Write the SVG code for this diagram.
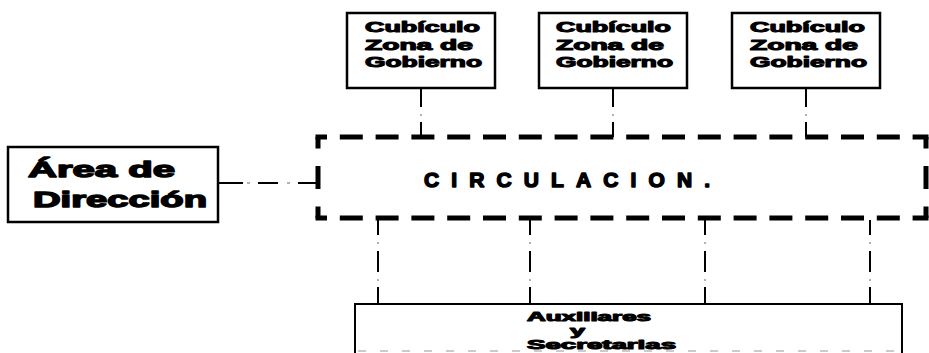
<svg xmlns="http://www.w3.org/2000/svg" width="929" height="353" viewBox="0 0 929 353">
<style>
.box{fill:#fff;stroke:#000;stroke-width:2.5}
.t{font-family:"Liberation Sans",Arial,sans-serif;font-weight:bold;fill:#000;stroke:#000;stroke-linejoin:round}
.tb{font-size:15px;stroke-width:1.1}
.ta{font-size:22px;stroke-width:1.4}
.tc{font-size:21px;stroke-width:1.5}
.tx{font-size:12px;stroke-width:1}
.c{fill:none;stroke:#000;stroke-width:2}
.dot{fill:none;stroke:#999;stroke-width:1.5}
.dh{fill:none;stroke:#000;stroke-width:5;stroke-dasharray:23 12.8;stroke-dashoffset:11.5}
.dv{fill:none;stroke:#000;stroke-width:5;stroke-dasharray:23 17.5;stroke-dashoffset:11.5}
</style>
<g id="connectors">
<path class="c" d="M421 88V107M421 122V137M613 88V107M613 122V137M806 88V107M806 122V137"/>
<path class="dot" d="M421 114v2M613 114v2M806 114v2"/>
<path class="c" d="M218 183H243M258 183H278M298 183H318"/>
<path class="dot" d="M247 183h3M287 183h3"/>
<path class="c" d="M378 220V235M378 251V272M378 287V304M530 220V235M530 251V272M530 287V304M705 220V235M705 251V272M705 287V304M870 220V235M870 251V272M870 287V304"/>
<path class="dot" d="M378 242v2M378 279v2M530 242v2M530 279v2M705 242v2M705 279v2M870 242v2M870 279v2"/>
</g>
<g id="cubiculo1">
<rect class="box" x="347" y="13" width="148" height="75"/>
<text class="t tb" x="365" y="32" textLength="115" lengthAdjust="spacingAndGlyphs">Cubículo</text>
<text class="t tb" x="365" y="50" textLength="108" lengthAdjust="spacingAndGlyphs">Zona de</text>
<text class="t tb" x="365" y="67" textLength="117" lengthAdjust="spacingAndGlyphs">Gobierno</text>
</g>
<g id="cubiculo2">
<rect class="box" x="539" y="13" width="148" height="75"/>
<text class="t tb" x="556" y="32" textLength="115" lengthAdjust="spacingAndGlyphs">Cubículo</text>
<text class="t tb" x="556" y="50" textLength="108" lengthAdjust="spacingAndGlyphs">Zona de</text>
<text class="t tb" x="556" y="67" textLength="117" lengthAdjust="spacingAndGlyphs">Gobierno</text>
</g>
<g id="cubiculo3">
<rect class="box" x="732" y="13" width="148" height="75"/>
<text class="t tb" x="750" y="32" textLength="115" lengthAdjust="spacingAndGlyphs">Cubículo</text>
<text class="t tb" x="750" y="50" textLength="108" lengthAdjust="spacingAndGlyphs">Zona de</text>
<text class="t tb" x="750" y="67" textLength="117" lengthAdjust="spacingAndGlyphs">Gobierno</text>
</g>
<g id="direccion">
<rect class="box" x="8" y="147" width="210" height="75"/>
<text class="t ta" x="28" y="177" textLength="147" lengthAdjust="spacingAndGlyphs">Área de</text>
<text class="t ta" x="33" y="207" textLength="174" lengthAdjust="spacingAndGlyphs">Dirección</text>
</g>
<g id="circulacion">
<path class="dh" d="M315.5 137H928.5M315.5 218H928.5"/>
<path class="dv" d="M318 137V218M926 137V218"/>
<text class="t tc" x="424" y="187" textLength="286" lengthAdjust="spacing">CIRCULACION.</text>
</g>
<g id="auxiliares">
<path class="c" d="M355 353V304H902V353"/>
<path fill="none" stroke="#bbb" stroke-width="1.5" stroke-dasharray="8 14" d="M358 351H900"/>
<text class="t tx" x="527" y="321" textLength="124" lengthAdjust="spacingAndGlyphs">Auxiliares</text>
<text class="t tx" x="570" y="335" textLength="15" lengthAdjust="spacingAndGlyphs">y</text>
<text class="t tx" x="527" y="349" textLength="149" lengthAdjust="spacingAndGlyphs">Secretarias</text>
</g>
</svg>
